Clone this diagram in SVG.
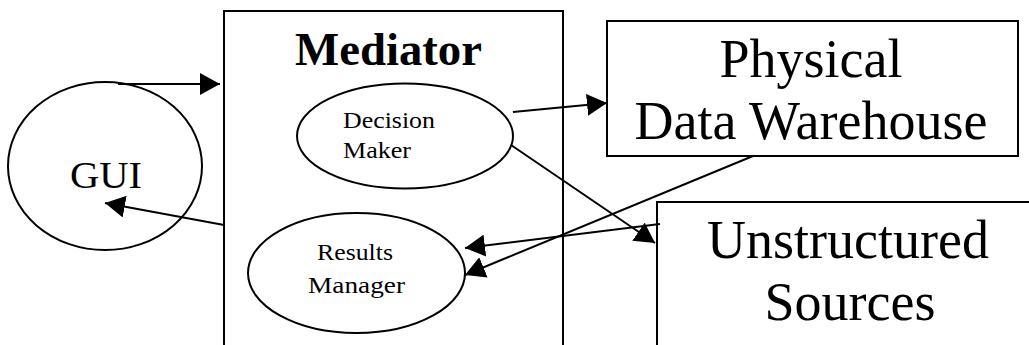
<svg xmlns="http://www.w3.org/2000/svg" width="1029" height="345" viewBox="0 0 1029 345">
<style>
.shape{fill:none;stroke:#000;stroke-width:2}
.t{font-family:"Liberation Serif","Times New Roman",serif;fill:#000}
.conn line{stroke:#000;stroke-width:2}
</style>
<defs>
<marker id="ah" markerUnits="userSpaceOnUse" markerWidth="21" markerHeight="22" refX="20" refY="11" orient="auto" viewBox="0 0 21 22">
<path d="M0,0 L20,11 L0,22 z" fill="#000"/>
</marker>
</defs>
<rect width="1029" height="345" fill="#fff"/>
<g id="mediator">
<rect class="shape" x="224" y="11" width="339" height="350"/>
<text class="t" x="295" y="65" font-size="47" font-weight="bold" textLength="187" lengthAdjust="spacingAndGlyphs">Mediator</text>
</g>
<g id="gui">
<ellipse class="shape" cx="105" cy="166" rx="97" ry="84"/>
<text class="t" x="70" y="188" font-size="38" textLength="72" lengthAdjust="spacingAndGlyphs">GUI</text>
</g>
<g id="decision-maker">
<ellipse class="shape" cx="405" cy="136" rx="108" ry="52.5"/>
<text class="t" x="343" y="128" font-size="23" textLength="92" lengthAdjust="spacingAndGlyphs">Decision</text>
<text class="t" x="343" y="158" font-size="23" textLength="68" lengthAdjust="spacingAndGlyphs">Maker</text>
</g>
<g id="results-manager">
<ellipse class="shape" cx="356.5" cy="273" rx="108.5" ry="60"/>
<text class="t" x="317" y="260" font-size="23" textLength="76" lengthAdjust="spacingAndGlyphs">Results</text>
<text class="t" x="308" y="293" font-size="23" textLength="97" lengthAdjust="spacingAndGlyphs">Manager</text>
</g>
<g id="physical-data-warehouse">
<rect class="shape" x="607" y="21" width="411" height="135"/>
<text class="t" x="811" y="77" font-size="54" text-anchor="middle">Physical</text>
<text class="t" x="811" y="139" font-size="54" text-anchor="middle">Data Warehouse</text>
</g>
<g id="unstructured-sources">
<rect class="shape" x="657" y="202" width="400" height="170"/>
<text class="t" x="848" y="258" font-size="54" text-anchor="middle">Unstructured</text>
<text class="t" x="850" y="320" font-size="54" text-anchor="middle">Sources</text>
</g>
<g id="connectors" class="conn">
<line x1="118" y1="84" x2="220" y2="84" marker-end="url(#ah)"/>
<line x1="224" y1="225" x2="105" y2="203" marker-end="url(#ah)"/>
<line x1="513" y1="112" x2="607" y2="103" marker-end="url(#ah)"/>
<line x1="511" y1="145" x2="655" y2="243" marker-end="url(#ah)"/>
<line x1="660" y1="224" x2="465" y2="248" marker-end="url(#ah)"/>
<line x1="753" y1="156" x2="465" y2="275" marker-end="url(#ah)"/>
</g>
</svg>
